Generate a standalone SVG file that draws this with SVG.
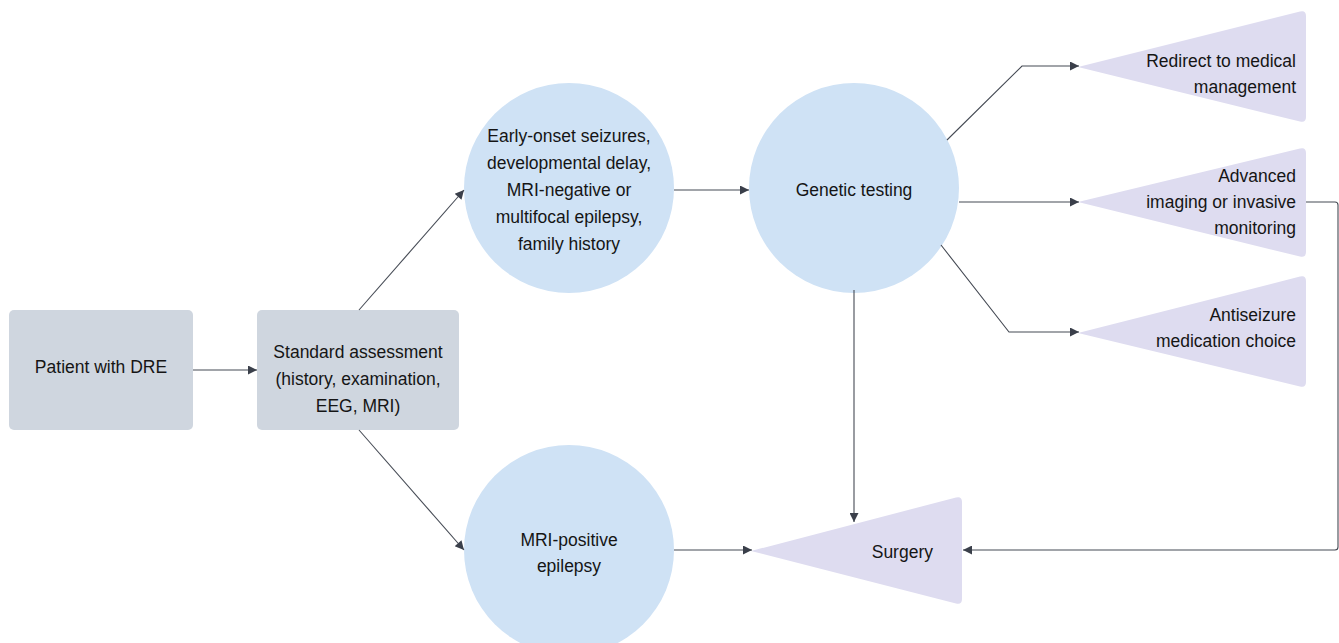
<svg xmlns="http://www.w3.org/2000/svg" width="1339" height="643" viewBox="0 0 1339 643">
<style>
.rect{fill:#cfd6df}
.circ{fill:#cfe2f5}
.tri{fill:#dedcf0}
text{font-family:"Liberation Sans",Arial,sans-serif;font-size:17.5px;fill:#151515}
.c{text-anchor:middle}
.r{text-anchor:end}
.edge{fill:none;stroke:#454a54;stroke-width:1.1}
</style>
<defs>
<marker id="arr" viewBox="0 0 10 10" refX="10" refY="5" markerWidth="12" markerHeight="9" markerUnits="userSpaceOnUse" orient="auto">
<path d="M0,0 L10,5 L0,10 Z" fill="#3a3f4a"/>
</marker>
</defs>
<rect width="1339" height="643" fill="#ffffff"/>

<g id="patient">
<rect class="rect" x="9" y="310" width="184" height="120" rx="5"/>
<text class="c" x="101" y="373">Patient with DRE</text>
</g>
<g id="standard">
<rect class="rect" x="257" y="310" width="202" height="120" rx="5"/>
<text class="c" x="358" y="358">Standard assessment</text>
<text class="c" x="358" y="385">(history, examination,</text>
<text class="c" x="358" y="412">EEG, MRI)</text>
</g>
<g id="early">
<circle class="circ" cx="569" cy="188" r="105"/>
<text class="c" x="569" y="142">Early-onset seizures,</text>
<text class="c" x="569" y="169">developmental delay,</text>
<text class="c" x="569" y="196">MRI-negative or</text>
<text class="c" x="569" y="223">multifocal epilepsy,</text>
<text class="c" x="569" y="250">family history</text>
</g>
<g id="mripos">
<circle class="circ" cx="569" cy="550" r="105"/>
<text class="c" x="569" y="546">MRI-positive</text>
<text class="c" x="569" y="572">epilepsy</text>
</g>
<g id="genetic">
<circle class="circ" cx="854" cy="188" r="105"/>
<text class="c" x="854" y="196">Genetic testing</text>
</g>
<g id="redirect">
<path class="tri" d="M1078,67 L1300,11.5 Q1306,10 1306,16 L1306,117 Q1306,123 1300,121.5 Z"/>
<text class="r" x="1296" y="67">Redirect to medical</text>
<text class="r" x="1296" y="93">management</text>
</g>
<g id="advanced">
<path class="tri" d="M1078,202 L1300,148.5 Q1306,147 1306,153 L1306,252 Q1306,258 1300,256.5 Z"/>
<text class="r" x="1296" y="182">Advanced</text>
<text class="r" x="1296" y="208">imaging or invasive</text>
<text class="r" x="1296" y="234">monitoring</text>
</g>
<g id="antiseizure">
<path class="tri" d="M1078,333 L1300,276.5 Q1306,275 1306,281 L1306,382 Q1306,388 1300,386.5 Z"/>
<text class="r" x="1296" y="321">Antiseizure</text>
<text class="r" x="1296" y="347">medication choice</text>
</g>
<g id="surgery">
<path class="tri" d="M751,551 L956,497.5 Q962,496 962,502 L962,599 Q962,605 956,603.5 Z"/>
<text class="r" x="933" y="558">Surgery</text>
</g>

<g id="connectors">
<path class="edge" marker-end="url(#arr)" d="M193,370 L257,370"/>
<path class="edge" marker-end="url(#arr)" d="M359,310 L464,190"/>
<path class="edge" marker-end="url(#arr)" d="M359,430 L464,550"/>
<path class="edge" marker-end="url(#arr)" d="M674,190 L749,190"/>
<path class="edge" marker-end="url(#arr)" d="M674,550 L752,550"/>
<path class="edge" marker-end="url(#arr)" d="M854,290 L854,522"/>
<path class="edge" marker-end="url(#arr)" d="M947,140 L1022,66 L1079,66"/>
<path class="edge" marker-end="url(#arr)" d="M959,202 L1079,202"/>
<path class="edge" marker-end="url(#arr)" d="M941,245 L1009,332 L1079,332"/>
<path class="edge" marker-end="url(#arr)" d="M1306,202 L1335,202 Q1338,202 1338,205 L1338,547 Q1338,550 1335,550 L963,550"/>
</g>
</svg>
